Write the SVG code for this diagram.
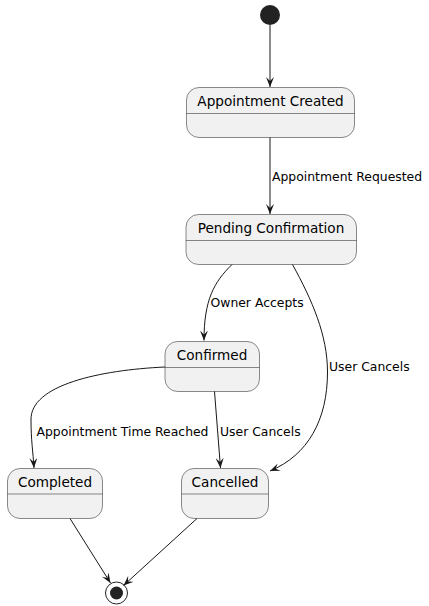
<svg xmlns="http://www.w3.org/2000/svg" width="429" height="606" viewBox="0 0 429 606">
<style>
.st{fill:#F1F1F1;stroke:#181818;stroke-width:0.5}
.sep{stroke:#181818;stroke-width:0.5}
.name{font-family:"DejaVu Sans",sans-serif;font-size:13.6px;fill:#000;text-anchor:middle}
.lbl{font-family:"DejaVu Sans",sans-serif;font-size:12.4px;fill:#000}
.ln{fill:none;stroke:#181818;stroke-width:1;marker-end:url(#ah)}
</style>
<defs>
<marker id="ah" viewBox="0 0 10 8" refX="10" refY="4" markerWidth="10" markerHeight="8" markerUnits="userSpaceOnUse" orient="auto">
<path d="M0,0 L10,4 L0,8 L4,4 Z" fill="#181818"/>
</marker>
</defs>
<g id="start"><circle cx="270" cy="15" r="10" fill="#222222"/></g>
<g id="created">
<rect class="st" x="186.5" y="87.5" width="168" height="50" rx="12.5"/>
<line class="sep" x1="186.5" y1="113.5" x2="354.5" y2="113.5"/>
<text class="name" x="270.5" y="106">Appointment Created</text>
</g>
<g id="pending">
<rect class="st" x="186" y="214.5" width="170.5" height="50" rx="12.5"/>
<line class="sep" x1="186" y1="240.5" x2="356.5" y2="240.5"/>
<text class="name" x="271" y="232.5">Pending Confirmation</text>
</g>
<g id="confirmed">
<rect class="st" x="165" y="341.5" width="94.5" height="50" rx="12.5"/>
<line class="sep" x1="165" y1="367.5" x2="259.5" y2="367.5"/>
<text class="name" x="212" y="359.5">Confirmed</text>
</g>
<g id="completed">
<rect class="st" x="7.5" y="468.5" width="95" height="50" rx="12.5"/>
<line class="sep" x1="7.5" y1="494" x2="102.5" y2="494"/>
<text class="name" x="55" y="486.5">Completed</text>
</g>
<g id="cancelled">
<rect class="st" x="181.5" y="468.5" width="87" height="50" rx="12.5"/>
<line class="sep" x1="181.5" y1="494" x2="268.5" y2="494"/>
<text class="name" x="225" y="486.5">Cancelled</text>
</g>
<g id="end">
<circle cx="116.5" cy="593" r="11" fill="none" stroke="#222222" stroke-width="1"/>
<circle cx="116.5" cy="593" r="6.5" fill="#222222"/>
</g>
<g id="connectors">
<path class="ln" d="M270,25 L270,87"/>
<path class="ln" d="M270,137.5 L270,214"/>
<text class="lbl" x="272" y="181">Appointment Requested</text>
<path class="ln" d="M232,264.5 C214,282 204,300 204,340.5"/>
<text class="lbl" x="210.5" y="307">Owner Accepts</text>
<path class="ln" d="M292.5,264.5 C312,300 327.5,335 327.5,372 C327.5,420 308,455 270,471"/>
<text class="lbl" x="329" y="371">User Cancels</text>
<path class="ln" d="M214.5,391.5 L220.5,468"/>
<text class="lbl" x="220" y="435.5">User Cancels</text>
<path class="ln" d="M165,367 C100,370 30,385 31,420 C31,440 33,452 34,468"/>
<text class="lbl" x="36.5" y="435.5">Appointment Time Reached</text>
<path class="ln" d="M70,518.5 L110.5,583"/>
<path class="ln" d="M197,518.5 L123.5,585.5"/>
</g>
</svg>
